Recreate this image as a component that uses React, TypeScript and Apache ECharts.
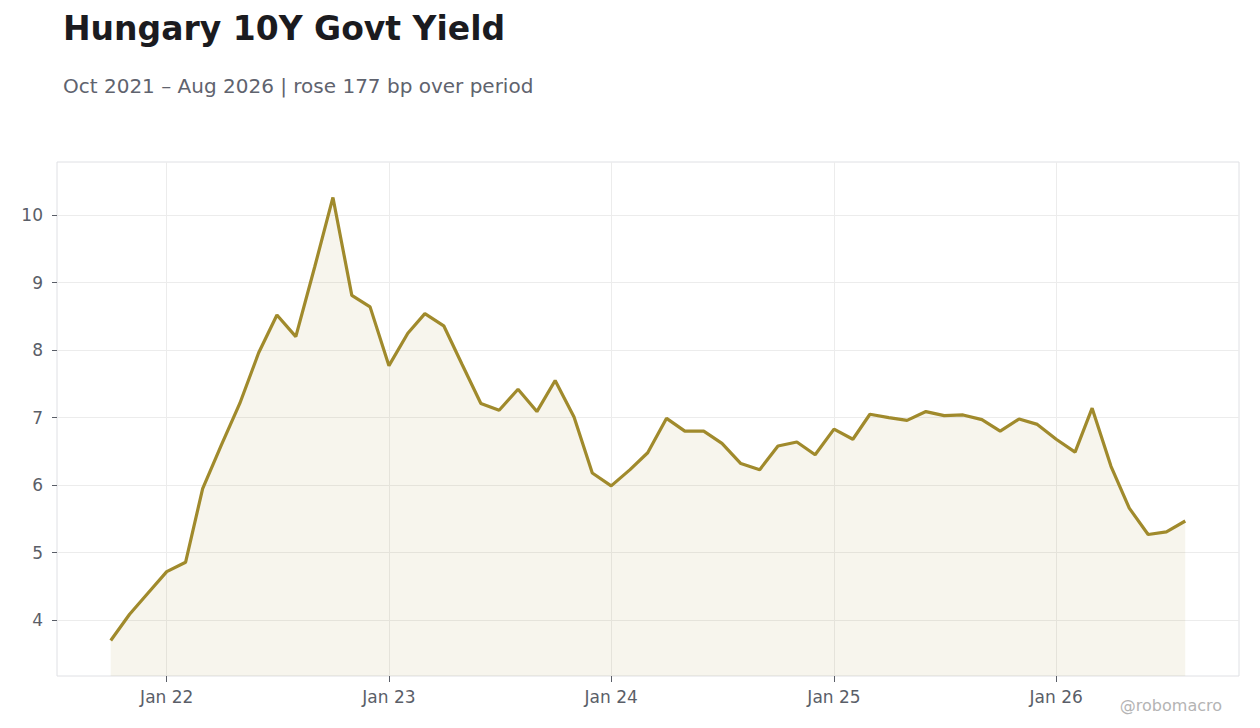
import React, { useEffect, useRef } from "react";
import * as echarts from "echarts";

const TITLE = "Hungary 10Y Govt Yield";
const SUBTITLE = "Oct 2021 – Aug 2026 | rose 177 bp over period";
const WATERMARK = "@robomacro";

const MONTHS = [
  "2021-10", "2021-11", "2021-12",
  "2022-01", "2022-02", "2022-03", "2022-04", "2022-05", "2022-06",
  "2022-07", "2022-08", "2022-09", "2022-10", "2022-11", "2022-12",
  "2023-01", "2023-02", "2023-03", "2023-04", "2023-05", "2023-06",
  "2023-07", "2023-08", "2023-09", "2023-10", "2023-11", "2023-12",
  "2024-01", "2024-02", "2024-03", "2024-04", "2024-05", "2024-06",
  "2024-07", "2024-08", "2024-09", "2024-10", "2024-11", "2024-12",
  "2025-01", "2025-02", "2025-03", "2025-04", "2025-05", "2025-06",
  "2025-07", "2025-08", "2025-09", "2025-10", "2025-11", "2025-12",
  "2026-01", "2026-02", "2026-03", "2026-04", "2026-05", "2026-06",
  "2026-07", "2026-08",
];

const YIELDS = [
  3.70, 4.09, 4.40,
  4.72, 4.86, 5.95, 6.60, 7.21, 7.96,
  8.52, 8.20, 9.23, 10.26, 8.81, 8.64,
  7.77, 8.25, 8.54, 8.36, 7.79, 7.21,
  7.11, 7.42, 7.09, 7.55, 7.01, 6.18,
  5.99, 6.23, 6.48, 6.99, 6.80, 6.80,
  6.62, 6.32, 6.23, 6.58, 6.64, 6.45,
  6.83, 6.68, 7.05, 7.00, 6.96, 7.09,
  7.03, 7.04, 6.97, 6.80, 6.98, 6.90,
  6.68, 6.49, 7.14, 6.28, 5.66, 5.27,
  5.31, 5.47,
];

const X_TICK_YEARS = [2022, 2023, 2024, 2025, 2026];
const Y_TICKS = [4, 5, 6, 7, 8, 9, 10];
const MONTH_NAMES = ["Jan", "Feb", "Mar", "Apr", "May", "Jun", "Jul", "Aug", "Sep", "Oct", "Nov", "Dec"];

const FONT = "DejaVu Sans";
const LINE_COLOR = "#a08a2c";

function monthToTime(m: string): number {
  const [y, mo] = m.split("-").map(Number);
  return new Date(y, mo - 1, 1).getTime();
}

export default function App() {
  const ref = useRef<HTMLDivElement>(null);

  useEffect(() => {
    if (!ref.current) return;
    const chart = echarts.init(ref.current, undefined, { renderer: "svg" });
    const data = MONTHS.map((m, i) => [monthToTime(m), YIELDS[i]]);
    const xTicks = X_TICK_YEARS.map((y) => new Date(y, 0, 1).getTime());

    chart.setOption({
      animation: false,
      backgroundColor: "#ffffff",
      title: [
        {
          text: TITLE,
          left: 63,
          top: 12,
          padding: 0,
          textStyle: { fontFamily: FONT, fontSize: 33, fontWeight: "bold", color: "#1b1b1f" },
        },
        {
          text: SUBTITLE,
          left: 63,
          top: 76,
          padding: 0,
          textStyle: { fontFamily: FONT, fontSize: 20, fontWeight: "normal", color: "#5f636e" },
        },
      ],
      graphic: [
        {
          type: "text",
          right: 38,
          top: 697,
          style: { text: WATERMARK, fontFamily: FONT, fontSize: 16, fill: "#b4b4b4" },
        },
      ],
      grid: {
        left: 57,
        right: 21,
        top: 162,
        bottom: 52,
        show: true,
        borderColor: "#dfe0e4",
        borderWidth: 1,
        containLabel: false,
      },
      xAxis: {
        type: "value",
        scale: true,
        min: (v: { min: number; max: number }) => v.min - (v.max - v.min) * 0.05,
        max: (v: { min: number; max: number }) => v.max + (v.max - v.min) * 0.05,
        axisLine: { show: false },
        axisTick: { show: true, length: 6, customValues: xTicks, lineStyle: { color: "#5a5e68", width: 1 } },
        axisLabel: {
          customValues: xTicks,
          margin: 12,
          fontFamily: FONT,
          fontSize: 17,
          color: "#5a5e68",
          formatter: (val: number) => {
            const d = new Date(val);
            return `${MONTH_NAMES[d.getMonth()]} ${String(d.getFullYear()).slice(2)}`;
          },
        },
        splitLine: { show: true, lineStyle: { color: "#ececec", width: 1 } },
      },
      yAxis: {
        type: "value",
        splitNumber: 7,
        min: (v: { min: number; max: number }) => v.min - (v.max - v.min) * 0.08,
        max: (v: { min: number; max: number }) => v.max + (v.max - v.min) * 0.08,
        axisLine: { show: false },
        axisTick: { show: true, length: 5, customValues: Y_TICKS, lineStyle: { color: "#5a5e68", width: 1 } },
        axisLabel: {
          customValues: Y_TICKS,
          margin: 14,
          fontFamily: FONT,
          fontSize: 17,
          color: "#5a5e68",
        },
        splitLine: { show: true, lineStyle: { color: "#ececec", width: 1 } },
      },
      series: [
        {
          type: "line",
          data,
          showSymbol: false,
          symbol: "none",
          lineStyle: { color: LINE_COLOR, width: 3.2 },
          itemStyle: { color: LINE_COLOR },
          areaStyle: { color: LINE_COLOR, opacity: 0.085 },
          z: 3,
        },
      ],
    });

    return () => chart.dispose();
  }, []);

  return (
    <div
      ref={ref}
      style={{ position: "fixed", left: 0, top: 0, width: 1260, height: 728, background: "#fff" }}
    />
  );
}
